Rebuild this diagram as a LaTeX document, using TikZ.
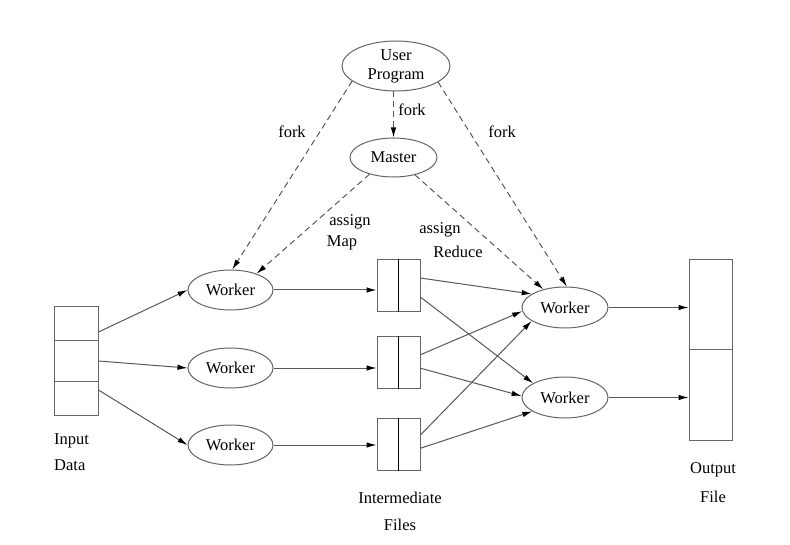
\documentclass[tikz,border=0pt]{standalone}
\usepackage{fontspec}
\setmainfont{Liberation Serif}
\newfontfamily\tmsfont{Liberation Serif}
\usetikzlibrary{shapes.geometric,arrows.meta,calc}
\begin{document}
\begin{tikzpicture}[x=1pt,y=-1pt,
  every node/.style={font=\tmsfont\fontsize{16.5}{19}\selectfont},
  ell/.style={ellipse,draw=black!60,line width=1pt,inner sep=0pt},
  box/.style={rectangle,draw=black!60,line width=1pt,inner sep=0pt},
  arr/.style={draw=black!65,line width=1pt,-{Latex[length=10pt,width=5.5pt,black]}},
  darr/.style={arr,dash pattern=on 6pt off 4pt},
  lbl/.style={inner sep=0pt}
]
\useasboundingbox[fill=white] (0,0) rectangle (790,545);

% top nodes
\node[ell,minimum width=108pt,minimum height=50pt,align=center] (up) at (396,66) {User\\Program};
\node[ell,minimum width=87pt,minimum height=39pt] (ma) at (393.5,157.5) {Master};

% workers
\node[ell,minimum width=85pt,minimum height=40pt] (w1) at (230.5,290) {Worker};
\node[ell,minimum width=85pt,minimum height=40pt] (w2) at (230.5,368) {Worker};
\node[ell,minimum width=85pt,minimum height=40pt] (w3) at (230.5,445) {Worker};
\node[ell,minimum width=86pt,minimum height=41pt] (w4) at (565,307.5) {Worker};
\node[ell,minimum width=86pt,minimum height=41pt] (w5) at (565,397.5) {Worker};

% input data
\node[box,minimum width=44pt,minimum height=34pt] (in1) at (76,324) {};
\node[box,minimum width=44pt,minimum height=40pt] (in2) at (76,361) {};
\node[box,minimum width=44pt,minimum height=34pt] (in3) at (76,398) {};

% intermediate files
\node[box,minimum width=43pt,minimum height=52pt] (b1) at (398.5,286) {};
\node[box,minimum width=43pt,minimum height=51pt] (b2) at (398.5,362.5) {};
\node[box,minimum width=43pt,minimum height=52pt] (b3) at (398.5,444) {};
\draw[line width=1pt] (b1.north) -- (b1.south);
\draw[line width=1pt] (b2.north) -- (b2.south);
\draw[line width=1pt] (b3.north) -- (b3.south);

% output file
\node[box,minimum width=43pt,minimum height=90pt] (o1) at (710.5,305) {};
\node[box,minimum width=43pt,minimum height=90pt] (o2) at (710.5,395) {};

% labels
\node[lbl] (f1) at (292,132) {fork};
\node[lbl] (f2) at (412,110) {fork};
\node[lbl] (f3) at (502,132) {fork};
\node[lbl] (am1) at (350,222) {assign};
\node[lbl] (am2) at (342,243) {Map};
\node[lbl] (ar1) at (440,230) {assign};
\node[lbl] (ar2) at (458,252) {Reduce};
\node[lbl,anchor=west] (id1) at (54,441) {Input};
\node[lbl,anchor=west] (id2) at (54,465) {Data};
\node[lbl] (im1) at (400,498) {Intermediate};
\node[lbl] (im2) at (400,525) {Files};
\node[lbl] (of1) at (713,470) {Output};
\node[lbl] (of2) at (713,497) {File};

% dashed control arrows
\draw[darr] (up.south -| ma.north) -- (ma.north);
\draw[darr] (up.199) -- (w1.85);
\draw[darr] (up.339) -- (w4.85);
\draw[darr] (ma.215) -- (w1.32);
\draw[darr] (ma.321) -- (w4.140);

% input to workers
\draw[arr] ($(in1.east)+(0,8)$) -- (w1.west);
\draw[arr] (in2.east) -- (w2.west);
\draw[arr] ($(in3.east)+(0,-8)$) -- (w3.west);

% workers to intermediate
\draw[arr] (w1.east) -- (w1.east -| b1.west);
\draw[arr] (w2.east) -- (w2.east -| b2.west);
\draw[arr] (w3.east) -- (w3.east -| b3.west);

% intermediate to reduce workers
\draw[arr] ($(b1.north east)!0.35!(b1.south east)$) -- (w4.158);
\draw[arr] ($(b1.north east)!0.71!(b1.south east)$) -- (w5.156);
\draw[arr] ($(b2.north east)!0.35!(b2.south east)$) -- (w4.185);
\draw[arr] ($(b2.north east)!0.61!(b2.south east)$) -- (w5.178);
\draw[arr] ($(b3.north east)!0.33!(b3.south east)$) -- (w4.202);
\draw[arr] ($(b3.north east)!0.58!(b3.south east)$) -- (w5.203);

% reduce workers to output
\draw[arr] (w4.east) -- (w4.east -| o1.west);
\draw[arr] (w5.east) -- (w5.east -| o2.west);
\end{tikzpicture}
\end{document}
